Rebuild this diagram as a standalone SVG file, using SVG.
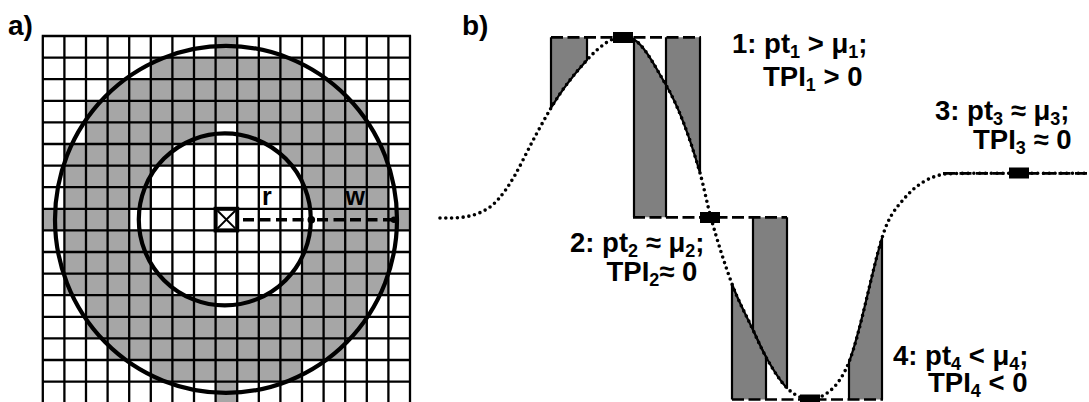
<svg xmlns="http://www.w3.org/2000/svg" width="1089" height="402" viewBox="0 0 1089 402">
<style>
text{font-family:"Liberation Sans",Arial,sans-serif;font-weight:bold;fill:#000}
.lbl{font-size:27.5px}
.panel{font-size:28px}
.cell{fill:#a6a6a6}
.grid{stroke:#000;stroke-width:2.3;fill:none}
.ring{stroke:#000;stroke-width:4.2;fill:none}
.bar{fill:#808080;stroke:#000;stroke-width:2.2;stroke-linejoin:round}
.mean{stroke:#000;stroke-width:2.7;stroke-dasharray:12 4.5;fill:none}
.curve{stroke:#000;stroke-width:3.6;stroke-dasharray:0 5.8;stroke-linecap:round;fill:none}
.pt{fill:#000}
</style>
<rect width="1089" height="402" fill="#fff"/>

<g id="panel-a">
  <text class="panel" x="8" y="34.5">a)</text>
  <g id="gray-cells">
    <rect class="cell" x="215.6" y="36" width="21.6" height="21.6"/>
    <rect class="cell" x="150.8" y="57.6" width="151.2" height="21.6"/>
    <rect class="cell" x="107.6" y="79.2" width="237.6" height="21.6"/>
    <rect class="cell" x="86" y="100.8" width="280.8" height="21.6"/>
    <rect class="cell" x="86" y="122.4" width="129.6" height="21.6"/>
    <rect class="cell" x="237.2" y="122.4" width="129.6" height="21.6"/>
    <rect class="cell" x="64.4" y="144" width="108" height="21.6"/>
    <rect class="cell" x="280.4" y="144" width="108" height="21.6"/>
    <rect class="cell" x="64.4" y="165.6" width="86.4" height="43.2"/>
    <rect class="cell" x="302" y="165.6" width="86.4" height="43.2"/>
    <rect class="cell" x="42.8" y="208.8" width="86.4" height="21.6"/>
    <rect class="cell" x="323.6" y="208.8" width="86.4" height="21.6"/>
    <rect class="cell" x="64.4" y="230.4" width="86.4" height="43.2"/>
    <rect class="cell" x="302" y="230.4" width="86.4" height="43.2"/>
    <rect class="cell" x="64.4" y="273.6" width="108" height="21.6"/>
    <rect class="cell" x="280.4" y="273.6" width="108" height="21.6"/>
    <rect class="cell" x="86" y="295.2" width="129.6" height="21.6"/>
    <rect class="cell" x="237.2" y="295.2" width="129.6" height="21.6"/>
    <rect class="cell" x="86" y="316.8" width="280.8" height="21.6"/>
    <rect class="cell" x="107.6" y="338.4" width="237.6" height="21.6"/>
    <rect class="cell" x="150.8" y="360" width="151.2" height="21.6"/>
    <rect class="cell" x="215.6" y="381.6" width="21.6" height="21.6"/>
  </g>
  <path id="grid" class="grid" d="M42.8,36V404M64.4,36V404M86,36V404M107.6,36V404M129.2,36V404M150.8,36V404M172.4,36V404M194,36V404M215.6,36V404M237.2,36V404M258.8,36V404M280.4,36V404M302,36V404M323.6,36V404M345.2,36V404M366.8,36V404M388.4,36V404M410,36V404
  M41.7,36H411.1M41.7,57.6H411.1M41.7,79.2H411.1M41.7,100.8H411.1M41.7,122.4H411.1M41.7,144H411.1M41.7,165.6H411.1M41.7,187.2H411.1M41.7,208.8H411.1M41.7,230.4H411.1M41.7,252H411.1M41.7,273.6H411.1M41.7,295.2H411.1M41.7,316.8H411.1M41.7,338.4H411.1M41.7,360H411.1M41.7,381.6H411.1"/>
  <g id="outer-circle"><ellipse class="ring" cx="226" cy="219.4" rx="171" ry="173.5"/></g>
  <g id="inner-circle"><circle class="ring" cx="224.8" cy="219.4" r="86"/></g>
  <g id="center-cell">
    <rect x="215.6" y="208.8" width="21.6" height="21.6" fill="#fff" stroke="#000" stroke-width="4"/>
    <path d="M217.6,210.8L235.2,228.4M235.2,210.8L217.6,228.4" stroke="#000" stroke-width="2"/>
  </g>
  <g id="radius-lines">
    <path d="M243,219.8H311M317,219.8H393" stroke="#000" stroke-width="3.5" stroke-dasharray="11 5.5" fill="none"/>
    <circle cx="311.3" cy="219.8" r="3.8"/>
    <circle cx="394" cy="219.8" r="3.2"/>
  </g>
  <text x="262" y="205" font-size="25">r</text>
  <text x="345.5" y="205" font-size="25">w</text>
</g>

<g id="panel-b">
  <text class="panel" x="462" y="35">b)</text>
  <g id="bars">
    <path class="bar" d="M551,37.3L551,108C563,87.6 575,73.2 587,60L587,37.3"/>
    <path class="bar" d="M634,217.3L634,39.5C644.7,45.9 655.3,66.9 666,85L666,217.3"/>
    <path class="bar" d="M666,37.3L666,85C677.3,104.3 688.7,133.3 700,173L700,37.3"/>
    <path class="bar" d="M753,217.3L753,330C757.3,339.5 761.7,349.2 766,357C773,369.6 780,381 787,388L787,217.3"/>
    <path class="bar" d="M732,399.5L732,284C739,302.9 746,314.6 753,330C757.3,339.5 761.7,349.2 766,357L766,399.5"/>
    <path class="bar" d="M849,399.5L849,362C860,334.5 871,274.3 882,238L882,399.5"/>
  </g>
  <g id="connectors">
    <path class="mean" d="M551,37.3H701"/>
    <path class="mean" d="M633,217.3H787"/>
    <path class="mean" d="M943,173.3H1089"/>
    <path class="mean" d="M732,399.5H883"/>
    <path class="curve" d="M440,218L445,218C460,218 475,217.5 490,207C501,198.75 512,182 523,160C532.3,141.3 541.7,123.9 551,108C563,87.6 575,73.2 587,60C599,46.8 611,37 623,37C626.7,37 630.3,37.3 634,39.5C644.7,45.9 655.3,66.9 666,85C677.3,104.3 688.7,133.3 700,173C703.7,185.8 707.3,204.8 711,218C718,243.2 725,265.1 732,284C739,302.9 746,314.6 753,330C757.3,339.5 761.7,349.2 766,357C773,369.6 780,381 787,388C794.7,395.7 802.3,399 810,399C822,399 838,390 849,362C860,334.5 871,274.3 882,238C889,214.9 896,208.4 903,200C917,183.2 931,176.1 945,174C955,173.5 965,173.3 975,173.3L1089,173.3"/>
  </g>
  <g id="point-1">
    <rect class="pt" x="613" y="32" width="20" height="11"/>
    <text class="lbl" x="732" y="52.5">1: pt<tspan dy="5" font-size="18">1</tspan><tspan dy="-5"> &gt; μ</tspan><tspan dy="5" font-size="18">1</tspan><tspan dy="-5">;</tspan></text>
    <text class="lbl" x="763" y="85.5">TPI<tspan dy="5" font-size="18">1</tspan><tspan dy="-5"> &gt; 0</tspan></text>
  </g>
  <g id="point-2">
    <rect class="pt" x="700" y="212" width="20" height="11"/>
    <text class="lbl" x="570" y="251.5">2: pt<tspan dy="5" font-size="18">2</tspan><tspan dy="-5"> ≈ μ</tspan><tspan dy="5" font-size="18">2</tspan><tspan dy="-5">;</tspan></text>
    <text class="lbl" x="606.5" y="280.5">TPI<tspan dy="5" font-size="18">2</tspan><tspan dy="-5">≈ 0</tspan></text>
  </g>
  <g id="point-3">
    <rect class="pt" x="1009" y="167.5" width="20" height="11"/>
    <text class="lbl" x="935" y="119.5">3: pt<tspan dy="5" font-size="18">3</tspan><tspan dy="-5"> ≈ μ</tspan><tspan dy="5" font-size="18">3</tspan><tspan dy="-5">;</tspan></text>
    <text class="lbl" x="973" y="148.5">TPI<tspan dy="5" font-size="18">3</tspan><tspan dy="-5"> ≈ 0</tspan></text>
  </g>
  <g id="point-4">
    <rect class="pt" x="800" y="394.5" width="20" height="11"/>
    <text class="lbl" x="893" y="365">4: pt<tspan dy="5" font-size="18">4</tspan><tspan dy="-5"> &lt; μ</tspan><tspan dy="5" font-size="18">4</tspan><tspan dy="-5">;</tspan></text>
    <text class="lbl" x="928" y="392">TPI<tspan dy="5" font-size="18">4</tspan><tspan dy="-5"> &lt; 0</tspan></text>
  </g>
</g>
</svg>
